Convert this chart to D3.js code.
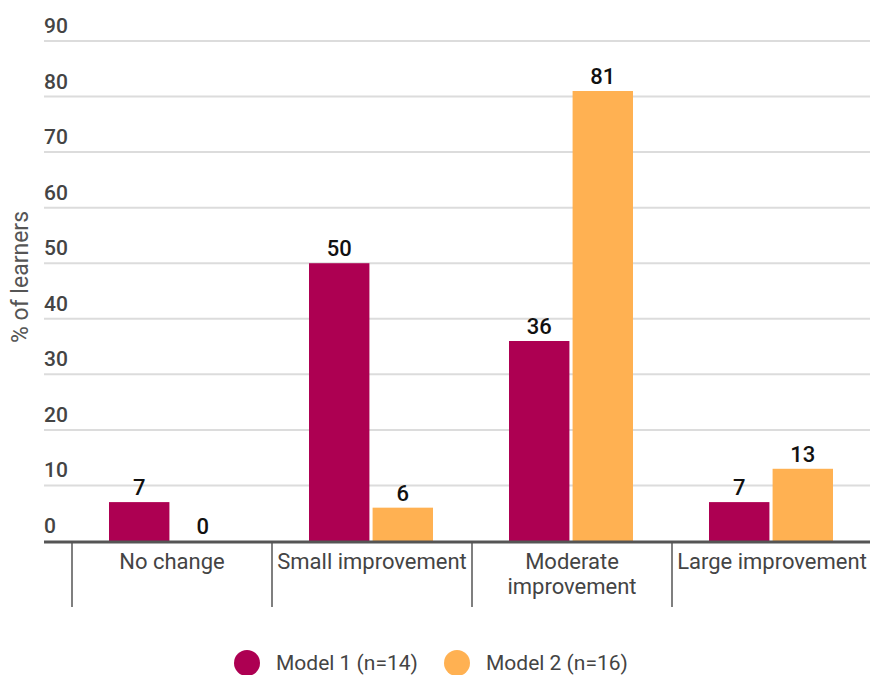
<!DOCTYPE html>
<html>
<head>
<meta charset="utf-8">
<script src="https://cdn.jsdelivr.net/npm/d3@7"></script>
<style>
  body { margin: 0; background: #fff; }
  text { font-family: Roboto, "Noto Sans", sans-serif; }
</style>
</head>
<body>
<div id="chart"></div>
<script>
const categories = ['No change', 'Small improvement', 'Moderate improvement', 'Large improvement'];
const categoryLines = [['No change'], ['Small improvement'], ['Moderate', 'improvement'], ['Large improvement']];
const seriesNames = ['Model 1 (n=14)', 'Model 2 (n=16)'];
const model1 = [7, 50, 36, 7];
const model2 = [0, 6, 81, 13];
const yTicks = [0, 10, 20, 30, 40, 50, 60, 70, 80, 90];
const colors = ['#ad0052', '#ffb152'];

const width = 870;
const height = 675;
const left = 44;
const bandLeft = 72;
const bandWidth = 200;

const svg = d3.select('#chart')
  .append('svg')
  .attr('width', width)
  .attr('height', height);

const y = d3.scaleLinear().domain([0, 90]).range([541, 41]);

const x = d3.scaleBand()
  .domain(categories)
  .range([bandLeft, bandLeft + bandWidth * categories.length])
  .paddingInner(0)
  .paddingOuter(0);

const inner = d3.scaleBand()
  .domain([0, 1])
  .range([37, 161])
  .paddingInner(0.05);

// gridlines + tick labels
const grid = svg.append('g');
grid.selectAll('line')
  .data(yTicks.filter((d) => d > 0))
  .enter()
  .append('line')
  .attr('x1', left)
  .attr('x2', width)
  .attr('y1', (d) => y(d))
  .attr('y2', (d) => y(d))
  .attr('stroke', '#dcdcdc')
  .attr('stroke-width', 2);

grid.selectAll('text')
  .data(yTicks)
  .enter()
  .append('text')
  .attr('x', left)
  .attr('y', (d) => y(d) - 8)
  .attr('fill', '#444')
  .attr('font-size', 21)
  .attr('font-weight', 500)
  .text((d) => d);

// y axis title
svg.append('text')
  .attr('transform', `translate(28,${277}) rotate(-90)`)
  .attr('text-anchor', 'middle')
  .attr('fill', '#555')
  .attr('font-size', 23)
  .text('% of learners');

// bars
const series = [model1, model2];
const groups = svg.append('g')
  .selectAll('g')
  .data(categories)
  .enter()
  .append('g')
  .attr('transform', (d) => `translate(${x(d)},0)`);

groups.each(function (cat, i) {
  const g = d3.select(this);
  series.forEach((values, s) => {
    const v = values[i];
    g.append('rect')
      .attr('x', inner(s))
      .attr('width', inner.bandwidth())
      .attr('y', y(v))
      .attr('height', y(0) - y(v))
      .attr('fill', colors[s]);
    g.append('text')
      .attr('x', inner(s) + inner.bandwidth() / 2)
      .attr('y', y(v) - 7)
      .attr('text-anchor', 'middle')
      .attr('fill', '#111')
      .attr('font-size', 22)
      .attr('font-weight', 500)
      .text(v);
  });
});

// x axis line
svg.append('line')
  .attr('x1', left)
  .attr('x2', width)
  .attr('y1', y(0) + 1)
  .attr('y2', y(0) + 1)
  .attr('stroke', '#555')
  .attr('stroke-width', 3);

// category separators
svg.append('g')
  .selectAll('line')
  .data(categories)
  .enter()
  .append('line')
  .attr('x1', (d) => x(d))
  .attr('x2', (d) => x(d))
  .attr('y1', y(0))
  .attr('y2', 607)
  .attr('stroke', '#555')
  .attr('stroke-width', 1.5);

// category labels
const labels = svg.append('g')
  .selectAll('text')
  .data(categories)
  .enter()
  .append('text')
  .attr('text-anchor', 'middle')
  .attr('fill', '#444')
  .attr('font-size', 22);

labels.each(function (cat, i) {
  const t = d3.select(this);
  categoryLines[i].forEach((line, j) => {
    t.append('tspan')
      .attr('x', x(cat) + bandWidth / 2)
      .attr('y', 569 + j * 25)
      .text(line);
  });
});

// legend
const legendX = [247, 457];
const legend = svg.append('g')
  .selectAll('g')
  .data(seriesNames)
  .enter()
  .append('g')
  .attr('transform', (d, i) => `translate(${legendX[i]},663)`);

legend.append('circle')
  .attr('r', 13)
  .attr('fill', (d, i) => colors[i]);

legend.append('text')
  .attr('x', 29)
  .attr('y', 7)
  .attr('fill', '#444')
  .attr('font-size', 21)
  .text((d) => d);
</script>
</body>
</html>
